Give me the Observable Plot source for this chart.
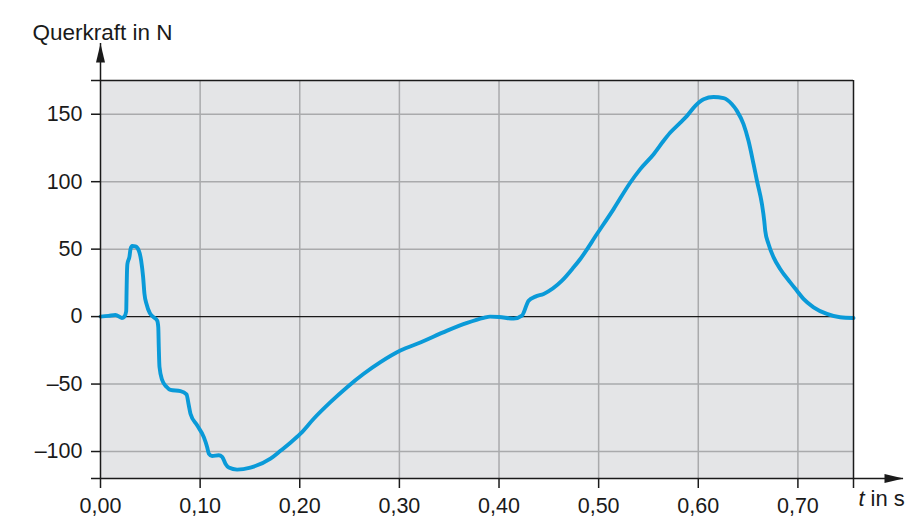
<!DOCTYPE html>
<html><head><meta charset="utf-8">
<script src="https://cdn.jsdelivr.net/npm/d3@7"></script>
<script src="https://cdn.jsdelivr.net/npm/@observablehq/plot@0.6"></script>
<style>body{margin:0;background:#fff}</style>
</head><body><div id="chart"></div>
<script>
// time in s
const time = [0, 0.008, 0.015, 0.0215, 0.024, 0.0258, 0.0262, 0.0265, 0.027, 0.0291, 0.0301, 0.0318, 0.0351, 0.0385, 0.0408, 0.0428, 0.0441, 0.0462, 0.0495, 0.0535, 0.0569, 0.058, 0.0585, 0.0592, 0.0619, 0.0662, 0.0702, 0.0803, 0.0863, 0.0886, 0.0903, 0.097, 0.1037, 0.107, 0.1087, 0.112, 0.1187, 0.1221, 0.1254, 0.1288, 0.1371, 0.1505, 0.1706, 0.1806, 0.1906, 0.2007, 0.214, 0.2308, 0.2475, 0.2642, 0.281, 0.301, 0.321, 0.348, 0.368, 0.3846, 0.391, 0.4, 0.4147, 0.423, 0.4297, 0.4365, 0.4448, 0.4632, 0.4749, 0.4816, 0.4983, 0.515, 0.5318, 0.5418, 0.5552, 0.5652, 0.5719, 0.582, 0.5887, 0.597, 0.6054, 0.6153, 0.6254, 0.6338, 0.6388, 0.6454, 0.6504, 0.6555, 0.6589, 0.6639, 0.6662, 0.6672, 0.6705, 0.6756, 0.6822, 0.6923, 0.699, 0.7056, 0.7157, 0.7291, 0.7424, 0.7558];
// Querkraft in N
const force = [0, 0.5, 1.2, -1, 0, 4, 20, 31, 39, 44.5, 50, 52.3, 52, 48.8, 41.5, 29.2, 17, 9.3, 2.5, -0.5, -3, -8, -22.5, -37.3, -47, -52, -54.3, -55.2, -57.6, -65.7, -72, -80.6, -89.3, -96.6, -101.5, -103.3, -102.8, -104, -109, -111.9, -113.4, -111.9, -105.3, -99.5, -93.5, -86.8, -75.7, -63.4, -52.3, -42.4, -33.8, -25.2, -19.2, -10.4, -4.7, -1, 0, -0.3, -1.5, 0.7, 11.8, 14.8, 16.8, 26.6, 36.5, 42.7, 61.2, 79.7, 99.4, 109.3, 120.4, 130.3, 136.4, 143.8, 148.8, 156.2, 161.1, 162.8, 161.9, 157.4, 152.5, 142.6, 130.3, 113, 100.7, 83.4, 71.1, 63.7, 53.8, 43.9, 35.3, 25.4, 19.2, 13.1, 6.9, 2, -0.5, -1];

const xTicks = [0, 0.1, 0.2, 0.3, 0.4, 0.5, 0.6, 0.7];
const xTickLabels = ["0,00", "0,10", "0,20", "0,30", "0,40", "0,50", "0,60", "0,70"];
const yTicks = [-100, -50, 0, 50, 100, 150];
const yTickLabels = ["\u2013100", "\u201350", "0", "50", "100", "150"];
const xDomain = [0, 0.7558];
const yDomain = [-120, 175];
const xArrowEnd = 0.806;
const yArrowEnd = 202.4;
const yTitle = "Querkraft in N";
const xTitleVar = "t";
const xTitleUnit = "in s";

const data = time.map((t, i) => ({t, f: force[i]}));

const gridColor = "#a9aaac";
const ink = "#1a1a1a";
const bg = "#e4e5e7";
const lineColor = "#0a9ad8";

const arrowUp = {
  draw(ctx) {
    ctx.moveTo(0, 0);
    ctx.lineTo(4.5, 19);
    ctx.lineTo(-4.5, 19);
    ctx.closePath();
  }
};

const chart = Plot.plot({
  width: 922,
  height: 517,
  marginLeft: 100,
  marginRight: 69,
  marginTop: 80,
  marginBottom: 39,
  style: {fontFamily: "'Liberation Sans', Arial, Helvetica, sans-serif", fontSize: "21.5px", color: ink, background: "#fff"},
  x: {domain: xDomain},
  y: {domain: yDomain},
  marks: [
    Plot.frame({fill: bg}),
    Plot.ruleX(xTicks.slice(1), {stroke: gridColor, strokeWidth: 1.5}),
    Plot.ruleY(yTicks.filter(d => d !== 0), {stroke: gridColor, strokeWidth: 1.5}),
    Plot.ruleY([0], {stroke: ink, strokeWidth: 1.3}),
    Plot.line(data, {x: "t", y: "f", stroke: lineColor, strokeWidth: 3.9, curve: "monotone-x"}),
    Plot.ruleY([yDomain[1]], {stroke: ink, strokeWidth: 1.5}),
    Plot.ruleX([xDomain[1]], {stroke: ink, strokeWidth: 1.5}),
    Plot.ruleX([0], {y1: yDomain[0], y2: yArrowEnd, stroke: ink, strokeWidth: 1.5}),
    Plot.ruleY([yDomain[0]], {x1: 0, x2: xArrowEnd, stroke: ink, strokeWidth: 1.5}),
    Plot.dot([{x: 0, y: yArrowEnd}], {x: "x", y: "y", symbol: arrowUp, r: 5, fill: ink, stroke: null}),
    Plot.dot([{x: xArrowEnd, y: yDomain[0]}], {x: "x", y: "y", symbol: arrowUp, r: 5, fill: ink, stroke: null, rotate: 90}),
    Plot.axisX({
      ticks: [...xTicks, xDomain[1]],
      tickFormat: d => { const i = xTicks.indexOf(d); return i >= 0 ? xTickLabels[i] : ""; },
      tickSize: 10, tickPadding: 9, strokeWidth: 1.5, label: null
    }),
    Plot.axisY({
      ticks: [...yTicks, yDomain[0], yDomain[1]],
      tickFormat: d => { const i = yTicks.indexOf(d); return i >= 0 ? yTickLabels[i] : ""; },
      tickSize: 9, tickPadding: 9, strokeWidth: 1.5, label: null
    }),
    Plot.text([yTitle], {frameAnchor: "top-left", textAnchor: "start", dx: -68, dy: -56, fontSize: 22.5, fill: ink}),
    Plot.text([xTitleVar], {frameAnchor: "bottom-right", textAnchor: "start", dx: 5, dy: 27, fontStyle: "italic", fontSize: 22, fill: ink}),
    Plot.text([xTitleUnit], {frameAnchor: "bottom-right", textAnchor: "start", dx: 17, dy: 27, fontSize: 22, fill: ink})
  ]
});
document.getElementById("chart").append(chart);
</script>
</body></html>
